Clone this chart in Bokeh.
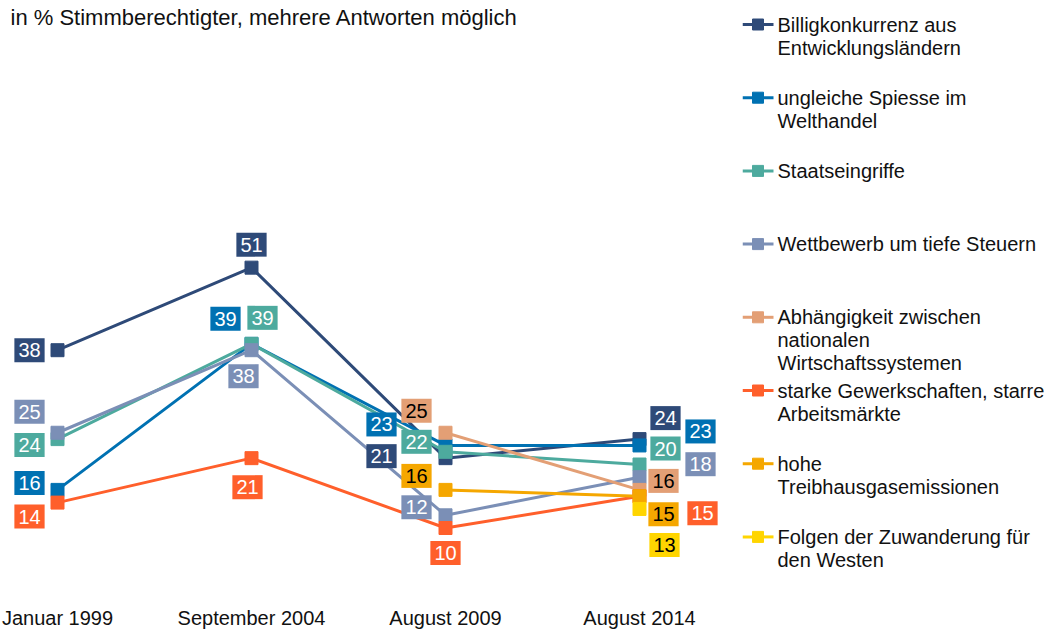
import math
from bokeh.plotting import figure
from bokeh.models import ColumnDataSource, Range1d, FixedTicker
from bokeh.layouts import row
from bokeh.embed import file_html
from bokeh.resources import INLINE
from bokeh.core.properties import value

NaN = float("nan")

# ---------------- data ----------------
categories = ["Januar 1999", "September 2004", "August 2009", "August 2014"]
billig = [38, 51, 21, 24]
ungleich = [16, 39, 23, 23]
staat = [24, 39, 22, 20]
steuern = [25, 38, 12, 18]
abhaengig = [NaN, NaN, 25, 16]
gewerk = [14, 21, 10, 15]
treibhaus = [NaN, NaN, 16, 15]
zuwand = [NaN, NaN, NaN, 13]

names = [
    "Billigkonkurrenz aus\nEntwicklungsländern",
    "ungleiche Spiesse im\nWelthandel",
    "Staatseingriffe",
    "Wettbewerb um tiefe Steuern",
    "Abhängigkeit zwischen\nnationalen\nWirtschaftssystemen",
    "starke Gewerkschaften, starre\nArbeitsmärkte",
    "hohe\nTreibhausgasemissionen",
    "Folgen der Zuwanderung für\nden Westen",
]
series = [billig, ungleich, staat, steuern, abhaengig, gewerk, treibhaus, zuwand]

# ---------------- styles ----------------
colors = ["#2E4A78", "#0071B2", "#4DAA9E", "#7B8FB6", "#E39F75", "#FF5F2B", "#F5A700", "#FFD500"]
label_fg = ["white", "white", "white", "white", "black", "white", "black", "black"]
# label offsets in px (dx right, dy down) per series per category
offsets = [
    [(-28, 0), (0, -23), (-64, -2), (26, -21)],
    [(-28, -7), (-26, -25), (-64, -21), (61, -14)],
    [(-28, 6), (11, -26), (-29, -10), (26, -16)],
    [(-28, -21), (-8, 26), (-29, -8), (61, -13)],
    [None, None, (-29, -22), (24, -9)],
    [(-28, 14), (-4, 29), (0, 25), (63, 17)],
    [None, None, (-29, -14), (24, 18)],
    [None, None, None, (25, 36)],
]

FONT = "Liberation Sans"
FRAME_W, FRAME_H = 742, 580
PX_X = 194.0
X0_PX = 57.0
PX_Y = 6.35
Y0_PX = 591.0  # pixel (from frame top) of value 0

x_start = -X0_PX / PX_X
x_end = x_start + FRAME_W / PX_X
y_end = Y0_PX / PX_Y
y_start = (Y0_PX - FRAME_H) / PX_Y

xs = list(range(len(categories)))

p = figure(frame_width=FRAME_W, frame_height=FRAME_H,
           x_range=Range1d(x_start, x_end), y_range=Range1d(y_start, y_end),
           output_backend="svg", toolbar_location=None, min_border=0,
           y_axis_location=None, outline_line_color=None)
p.grid.visible = False
ax = p.xaxis[0]
ax.ticker = FixedTicker(ticks=xs)
ax.major_label_overrides = {i: c for i, c in enumerate(categories)}
ax.axis_line_color = None
ax.major_tick_line_color = None
ax.minor_tick_line_color = None
ax.major_label_text_font = FONT
ax.major_label_text_font_size = "20px"
ax.major_label_text_color = "#111111"
ax.major_label_standoff = 20

for vals, col in zip(series, colors):
    src = ColumnDataSource(dict(x=xs, y=vals))
    p.line("x", "y", source=src, line_color=col, line_width=3)
    p.scatter("x", "y", source=src, marker="square", size=13,
              fill_color=col, line_color=col)

lx, ly, lt, lbg, lfg, ldx, ldy = [], [], [], [], [], [], []
for vals, col, fg, offs in zip(series, colors, label_fg, offsets):
    for i, v in enumerate(vals):
        if isinstance(v, float) and math.isnan(v):
            continue
        lx.append(xs[i]); ly.append(v); lt.append(str(v))
        lbg.append(col); lfg.append(fg)
        ldx.append(offs[i][0]); ldy.append(offs[i][1])
lsrc = ColumnDataSource(dict(x=lx, y=ly, t=lt, bg=lbg, fg=lfg, dx=ldx, dy=ldy))
p.text("x", "y", text="t", source=lsrc, text_color="fg", x_offset="dx", y_offset="dy",
       text_align="center", text_baseline="middle", text_font=value(FONT),
       text_font_size="20px", background_fill_color="bg", padding=(4, 5))

# title
tsrc = ColumnDataSource(dict(x=[x_start], y=[y_end], t=["in % Stimmberechtigter, mehrere Antworten möglich"]))
p.text("x", "y", text="t", source=tsrc, x_offset=10, y_offset=17, text_align="left",
       text_baseline="middle", text_font=value(FONT), text_font_size="22px", text_color="#111111")

# ---------------- legend ----------------
LEG_W = 308
lg = figure(frame_width=LEG_W, frame_height=FRAME_H,
            x_range=Range1d(0, LEG_W), y_range=Range1d(FRAME_H, 0),
            output_backend="svg", toolbar_location=None, min_border=0,
            x_axis_location=None, y_axis_location=None, outline_line_color=None)
lg.grid.visible = False
item_y = [24 + 73.2 * i for i in range(len(names))]
for yy, col in zip(item_y, colors):
    lg.line([0, 31], [yy, yy], line_color=col, line_width=3)
    lg.scatter([15.5], [yy], marker="square", size=11, fill_color=col, line_color=col)
lg.text(x=[35] * len(names), y=[yy - 11 for yy in item_y], text=names,
        text_align="left", text_baseline="top", text_font=value(FONT),
        text_font_size="20px", text_color="#111111", text_line_height=1.05)

layout = row(p, lg)
open("out.html", "w").write(file_html(layout, INLINE))
